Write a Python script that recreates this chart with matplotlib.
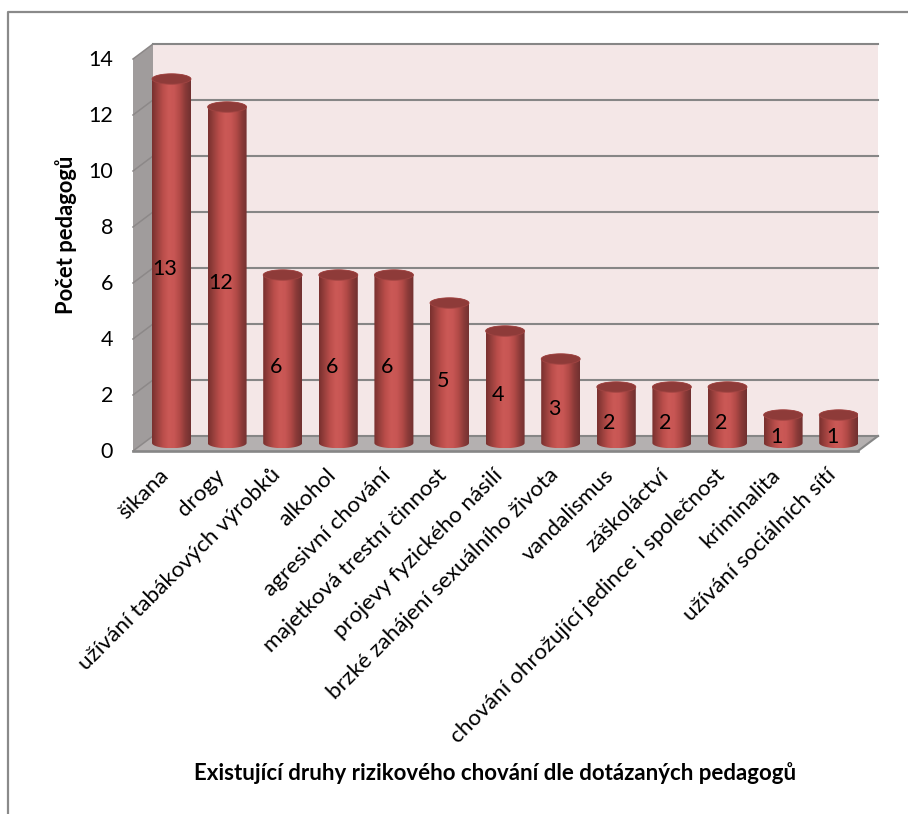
import matplotlib

matplotlib.use("Agg")
import matplotlib.pyplot as plt
import numpy as np
from matplotlib.colors import LinearSegmentedColormap
from matplotlib.patches import Polygon

categories = [
    "šikana",
    "drogy",
    "užívání tabákových výrobků",
    "alkohol",
    "agresivní chování",
    "majetková trestní činnost",
    "projevy fyzického násilí",
    "brzké zahájení sexuálního života",
    "vandalismus",
    "záškoláctví",
    "chování ohrožující jedince i společnost",
    "kriminalita",
    "užívání sociálních sítí",
]
counts = [13, 12, 6, 6, 6, 5, 4, 3, 2, 2, 2, 1, 1]
y_ticks = [0, 2, 4, 6, 8, 10, 12, 14]

W, H = 908, 814
plt.rcParams["font.family"] = ["Lato", "DejaVu Sans"]

fig = plt.figure(figsize=(W / 100, H / 100), dpi=100)

# the axes is the front plane of the 3D box
left, right, bottom, top = 133, 858, 451, 59
ax = fig.add_axes([left / W, 1 - bottom / H, (right - left) / W, (bottom - top) / H])
pitch = 55.6
first = 171.5
ax.set_xlim((left - first) / pitch, (right - first) / pitch)
ax.set_ylim(0, 14)
ax.axis("off")

px_x = 1 / pitch
px_y = 14 / (bottom - top)
depth_x = 20 * px_x
depth_y = 15 * px_y
x0, x1 = ax.get_xlim()

wall = "#f4e7e7"
side = "#a09c9c"
floor = "#b4b0b0"
grid = "#868686"
side_grid = "#8c8888"

ax.add_patch(Polygon([(x0 + depth_x, depth_y), (x1 + depth_x, depth_y),
                      (x1 + depth_x, 14 + depth_y), (x0 + depth_x, 14 + depth_y)],
                     facecolor=wall, edgecolor="none", zorder=1, clip_on=False))
ax.add_patch(Polygon([(x0, 0), (x0 + depth_x, depth_y), (x0 + depth_x, 14 + depth_y), (x0, 14)],
                     facecolor=side, edgecolor="none", zorder=1, clip_on=False))
ax.add_patch(Polygon([(x0, 0), (x1, 0), (x1 + depth_x, depth_y), (x0 + depth_x, depth_y)],
                     facecolor=floor, edgecolor="none", zorder=1, clip_on=False))

# gridlines run along the back wall and fold down the side wall
for t in y_ticks:
    ax.plot([x0, x0 + depth_x], [t, t + depth_y], color=side_grid, lw=1.1, zorder=2, clip_on=False)
    ax.plot([x0 + depth_x, x1 + depth_x], [t + depth_y, t + depth_y],
            color=grid, lw=1.5, zorder=2, clip_on=False)
ax.plot([x0, x1], [0, 0], color=grid, lw=1.9, zorder=2, clip_on=False)
ax.plot([x1, x1 + depth_x], [0, depth_y], color=grid, lw=1.5, zorder=2, clip_on=False)

# cylinders: horizontal gradient clipped to the body outline
body_cmap = LinearSegmentedColormap.from_list(
    "cyl", ["#78302e", "#9a403d", "#bb4e4b", "#cb5956", "#c85654", "#b24a47", "#8a3a38", "#703030"]
)
gradient = np.linspace(0, 1, 128).reshape(1, -1)
rx = 19.5 * px_x
ry = 5.2 * px_y
base = 8 * px_y
theta = np.linspace(0, np.pi, 60)

for i, value in enumerate(counts):
    yb = base
    yt = base + value
    outline = np.column_stack([
        np.r_[i + rx * np.cos(theta + np.pi), i + rx * np.cos(theta)],
        np.r_[yb + ry * np.sin(theta + np.pi), yt + ry * np.sin(theta)],
    ])
    poly = Polygon(outline, facecolor="none", edgecolor="none", transform=ax.transData)
    ax.add_patch(poly)
    im = ax.imshow(gradient, cmap=body_cmap, extent=(i - rx, i + rx, yb - ry, yt + ry),
                   aspect="auto", zorder=3, interpolation="bilinear")
    im.set_clip_path(poly)
    ax.add_patch(Polygon(
        np.column_stack([i + rx * np.cos(2 * theta), yt + ry * np.sin(2 * theta)]),
        facecolor="#8e3b39", edgecolor="#a04442", lw=0.6, zorder=4))
    ax.text(i - 0.12, value / 2, str(value), ha="center", va="center",
            fontsize=15.5, color="black", zorder=5)

ax.set_xlim(x0, x1)
ax.set_ylim(0, 14)

for t in y_ticks:
    ax.annotate(str(t), xy=(x0, t), xytext=(-20, -1), textcoords="offset pixels",
                ha="right", va="center", fontsize=15.5, color="black")

for i, name in enumerate(categories):
    ax.annotate(name, xy=(i, 0), xytext=(-13, -14), textcoords="offset pixels",
                rotation=45, rotation_mode="anchor", ha="right", va="top",
                fontsize=16.2, color="black")

fig.text(66 / W, 1 - 235 / H, "Počet pedagogů", rotation=90, ha="center", va="center",
         fontsize=15.8, fontweight="bold", color="black")
fig.text(495 / W, 1 - 773 / H, "Existující druhy rizikového chování dle dotázaných pedagogů",
         ha="center", va="center", fontsize=16, fontweight="bold", color="black")

# chart frame, open on the right and at the bottom
frame = fig.add_axes([0, 0, 1, 1], zorder=-1)
frame.set_xlim(0, W)
frame.set_ylim(H, 0)
frame.axis("off")
frame.plot([8, 8, W], [H, 12, 12], color="#8a8a8a", lw=1.6)

fig.savefig("out.png", dpi=100, facecolor="white")
